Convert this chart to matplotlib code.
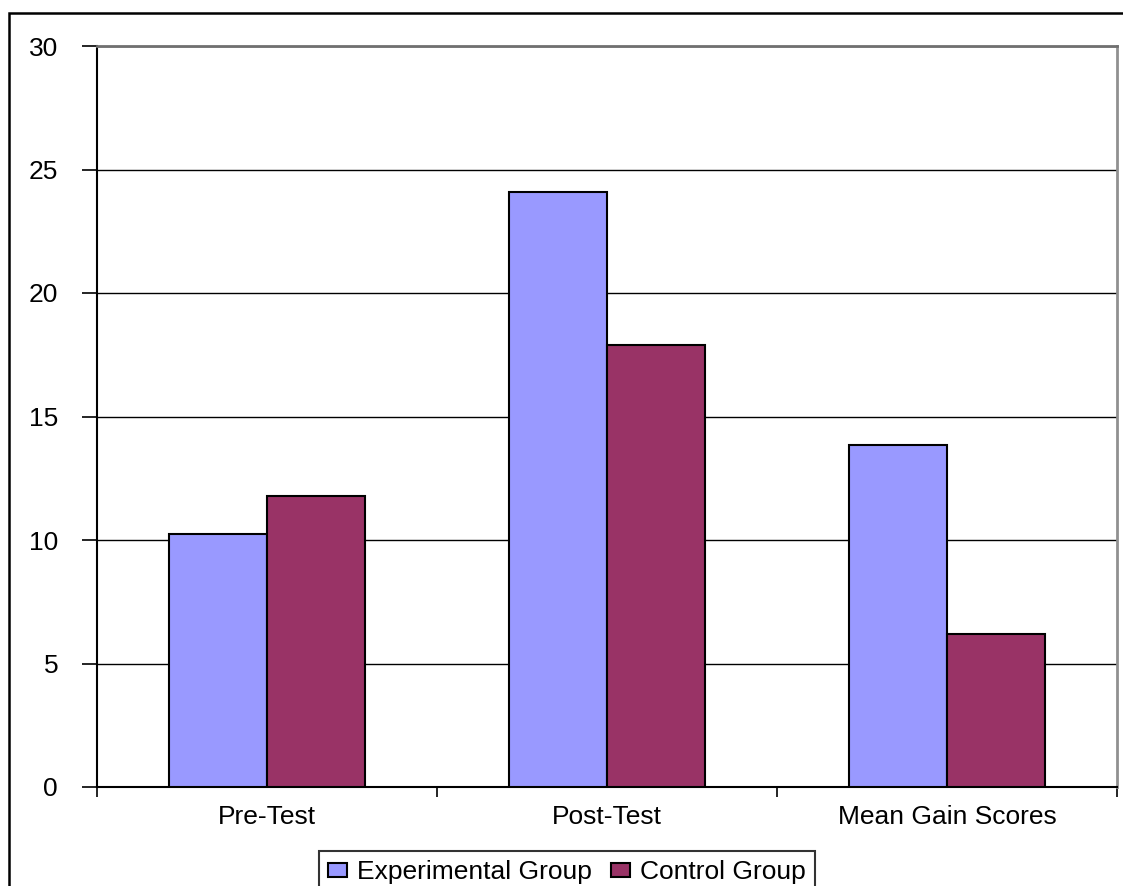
import numpy as np
import matplotlib.pyplot as plt
from matplotlib.patches import Rectangle

plt.rcParams['font.family'] = ['Liberation Sans', 'DejaVu Sans']

# data
categories = ["Pre-Test", "Post-Test", "Mean Gain Scores"]
experimental = [10.25, 24.1, 13.85]
control = [11.8, 17.9, 6.2]
series_names = ["Experimental Group", "Control Group"]
yticks = [0, 5, 10, 15, 20, 25, 30]

exp_color = "#9999FF"
ctrl_color = "#993366"
fs = 19

fig = plt.figure(figsize=(11.23, 8.86), dpi=100)
ax = fig.add_axes([97 / 1123, 99 / 886, 1020 / 1123, 741 / 886])

# outer chart border
fig.patches.append(Rectangle((9 / 1123, -0.05), 1.2, 0.05 + (886 - 13) / 886,
                             transform=fig.transFigure, fill=False,
                             edgecolor="black", linewidth=1.8))

x = np.arange(len(categories))
w = 0.287
b1 = ax.bar(x - w / 2, experimental, w, color=exp_color, edgecolor="black",
            linewidth=1.5, label=series_names[0], zorder=3)
b2 = ax.bar(x + w / 2, control, w, color=ctrl_color, edgecolor="black",
            linewidth=1.5, label=series_names[1], zorder=3)

ax.set_xlim(-0.5, len(categories) - 0.5)
ax.set_ylim(0, 30)
ax.set_yticks(yticks)
ax.yaxis.grid(True, color="black", linewidth=1.0, zorder=0)
ax.tick_params(axis="y", length=11, width=1.2, labelsize=fs, pad=17)

# ticks at category boundaries, labels at centers
ax.set_xticks(np.arange(len(categories) + 1) - 0.5)
ax.set_xticklabels([])
ax.set_xticks(x, minor=True)
ax.set_xticklabels(categories, minor=True, fontsize=fs)
ax.tick_params(axis="x", which="major", length=7, width=1.2)
ax.tick_params(axis="x", which="minor", length=0, pad=13)

ax.spines["left"].set_linewidth(1.5)
ax.spines["bottom"].set_linewidth(1.5)
ax.spines["top"].set_color("#707070")
ax.spines["top"].set_linewidth(2)
ax.spines["right"].set_color("#909090")
ax.spines["right"].set_linewidth(2)

leg = fig.legend(handles=[b1, b2], loc="upper center",
                 bbox_to_anchor=(567 / 1123, 1 - 851 / 886), ncol=2,
                 fontsize=fs, frameon=True, fancybox=False, edgecolor="black",
                 handlelength=0.72, handleheight=0.45, handletextpad=0.4,
                 columnspacing=0.7, borderpad=0.35, borderaxespad=0)
leg.get_frame().set_linewidth(1.5)

fig.savefig("out.png", dpi=100)
